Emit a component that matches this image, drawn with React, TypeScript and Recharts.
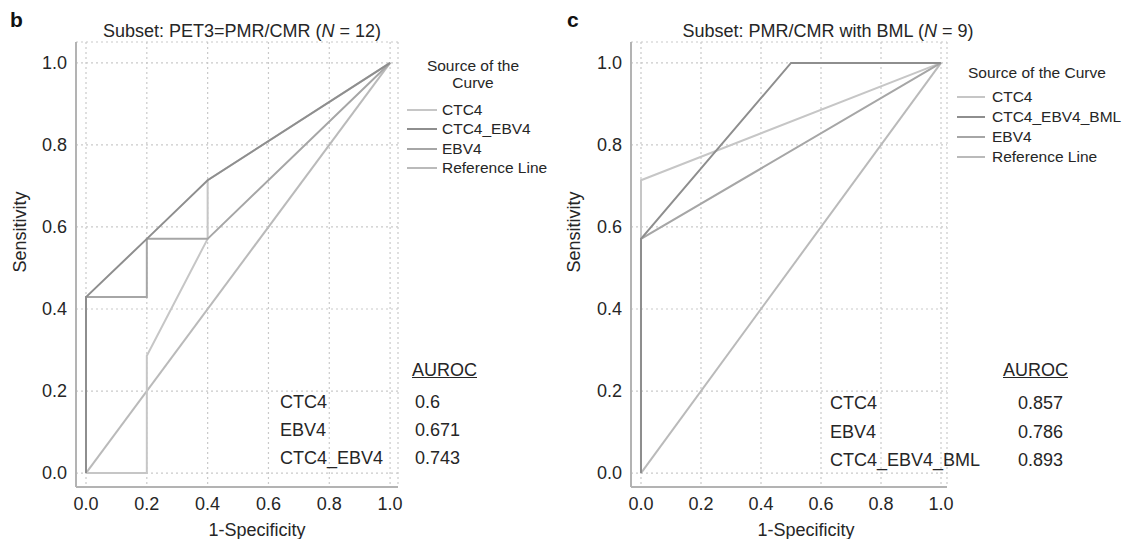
import React from 'react';
import { LineChart, Line, XAxis, YAxis, CartesianGrid } from 'recharts';

// tick values shared by both panels
const axisTicks = [0, 0.2, 0.4, 0.6, 0.8, 1.0];

// panel b: Subset PET3=PMR/CMR (N = 12)
const bCtc4Fpr = [0, 0.2, 0.2, 0.4, 0.4, 1];
const bCtc4Tpr = [0, 0, 0.286, 0.571, 0.714, 1];
const bEbv4Fpr = [0, 0, 0.2, 0.2, 0.4, 1];
const bEbv4Tpr = [0, 0.429, 0.429, 0.571, 0.571, 1];
const bComboFpr = [0, 0, 0.2, 0.4, 1];
const bComboTpr = [0, 0.429, 0.571, 0.714, 1];
const bLegendNames = ['CTC4', 'CTC4_EBV4', 'EBV4', 'Reference Line'];
const bAurocNames = ['CTC4', 'EBV4', 'CTC4_EBV4'];
const bAurocValues = ['0.6', '0.671', '0.743'];

// panel c: Subset PMR/CMR with BML (N = 9)
const cCtc4Fpr = [0, 0, 1];
const cCtc4Tpr = [0, 0.714, 1];
const cEbv4Fpr = [0, 0, 1];
const cEbv4Tpr = [0, 0.571, 1];
const cComboFpr = [0, 0, 0.5, 1];
const cComboTpr = [0, 0.571, 1, 1];
const cLegendNames = ['CTC4', 'CTC4_EBV4_BML', 'EBV4', 'Reference Line'];
const cAurocNames = ['CTC4', 'EBV4', 'CTC4_EBV4_BML'];
const cAurocValues = ['0.857', '0.786', '0.893'];

// diagonal reference line
const refFpr = [0, 1];
const refTpr = [0, 1];

const FONT = '"Liberation Sans", Arial, Helvetica, sans-serif';
const TEXT = '#262626';

// legend order: CTC4, combo, EBV4, reference
const legendColors = ['#c6c6c6', '#8e8e8e', '#a6a6a6', '#bababa'];

const toPoints = (xs: number[], ys: number[]) => xs.map((x, i) => ({ x, y: ys[i] }));

type Curve = { name: string; fpr: number[]; tpr: number[]; color: string; width: number };

interface PanelProps {
  left: number;
  width: number;
  plotLeft: number;
  plotRight: number;
  xDomain: [number, number];
  curves: Curve[];
}

const RocPanel: React.FC<PanelProps> = ({ left, width, plotLeft, plotRight, xDomain, curves }) => (
  <div style={{ position: 'absolute', left, top: 0, width, height: 539 }}>
    <LineChart width={width} height={539} margin={{ top: 42, right: width - plotRight, bottom: 0, left: 0 }}>
      <CartesianGrid stroke="#cacaca" strokeDasharray="2 3" strokeWidth={1.2} />
      <XAxis
        type="number"
        dataKey="x"
        domain={xDomain}
        ticks={axisTicks}
        interval={0}
        allowDataOverflow
        height={52}
        tickFormatter={(v: number) => v.toFixed(1)}
        axisLine={{ stroke: '#b3b3b3', strokeWidth: 2 }}
        tickLine={false}
        tickSize={0}
        tickMargin={10}
        tick={{ fill: TEXT, fontSize: 18, fontFamily: FONT }}
      />
      <YAxis
        type="number"
        domain={[-0.034, 1.051]}
        ticks={axisTicks}
        interval={0}
        allowDataOverflow
        width={plotLeft}
        tickFormatter={(v: number) => v.toFixed(1)}
        axisLine={{ stroke: '#b3b3b3', strokeWidth: 2 }}
        tickLine={false}
        tickSize={0}
        tickMargin={9}
        tick={{ fill: TEXT, fontSize: 18, fontFamily: FONT }}
      />
      {curves.map((c) => (
        <Line
          key={c.name}
          data={toPoints(c.fpr, c.tpr)}
          dataKey="y"
          type="linear"
          stroke={c.color}
          strokeWidth={c.width}
          dot={false}
          activeDot={false}
          isAnimationActive={false}
        />
      ))}
    </LineChart>
  </div>
);

const abs = (l: number, t: number, extra: React.CSSProperties = {}): React.CSSProperties => ({
  position: 'absolute', left: l, top: t, fontFamily: FONT, color: TEXT, whiteSpace: 'nowrap', ...extra,
});

const LegendRows = ({ names, left, top, rowH, swatch, gap }: { names: string[]; left: number; top: number; rowH: number; swatch: number; gap: number }) => (
  <div style={abs(left, top, { fontSize: 15.5 })}>
    {names.map((n, i) => (
      <div key={n} style={{ height: rowH, display: 'flex', alignItems: 'center' }}>
        <span style={{ display: 'inline-block', width: swatch, height: 2, background: legendColors[i], marginRight: gap }} />
        <span>{n}</span>
      </div>
    ))}
  </div>
);

const App: React.FC = () => {
  const bCurves: Curve[] = [
    { name: 'Reference Line', fpr: refFpr, tpr: refTpr, color: legendColors[3], width: 2 },
    { name: 'CTC4', fpr: bCtc4Fpr, tpr: bCtc4Tpr, color: legendColors[0], width: 2 },
    { name: 'EBV4', fpr: bEbv4Fpr, tpr: bEbv4Tpr, color: legendColors[2], width: 2 },
    { name: 'CTC4_EBV4', fpr: bComboFpr, tpr: bComboTpr, color: legendColors[1], width: 2 },
  ];
  const cCurves: Curve[] = [
    { name: 'Reference Line', fpr: refFpr, tpr: refTpr, color: legendColors[3], width: 2 },
    { name: 'CTC4', fpr: cCtc4Fpr, tpr: cCtc4Tpr, color: legendColors[0], width: 2 },
    { name: 'EBV4', fpr: cEbv4Fpr, tpr: cEbv4Tpr, color: legendColors[2], width: 2 },
    { name: 'CTC4_EBV4_BML', fpr: cComboFpr, tpr: cComboTpr, color: legendColors[1], width: 2 },
  ];

  return (
    <div style={{ position: 'absolute', left: 0, top: 0, width: 1124, height: 539, background: '#fff', overflow: 'hidden' }}>
      <RocPanel left={0} width={560} plotLeft={76} plotRight={398} xDomain={[-0.0329, 1.026]} curves={bCurves} />
      <RocPanel left={560} width={564} plotLeft={71} plotRight={387} xDomain={[-0.0333, 1.02]} curves={cCurves} />

      {/* panel letters and titles */}
      <div style={abs(10, 8, { fontSize: 21, fontWeight: 'bold', color: '#111' })}>b</div>
      <div style={abs(567, 8, { fontSize: 21, fontWeight: 'bold', color: '#111' })}>c</div>
      <div style={abs(242, 31, { fontSize: 18, transform: 'translate(-50%, -50%)' })}>
        Subset: PET3=PMR/CMR (<i>N</i> = 12)
      </div>
      <div style={abs(828, 31, { fontSize: 18, transform: 'translate(-50%, -50%)' })}>
        Subset: PMR/CMR with BML (<i>N</i> = 9)
      </div>

      {/* axis titles */}
      <div style={abs(20, 232, { fontSize: 18, transform: 'translate(-50%, -50%) rotate(-90deg)' })}>Sensitivity</div>
      <div style={abs(574, 232, { fontSize: 18, transform: 'translate(-50%, -50%) rotate(-90deg)' })}>Sensitivity</div>
      <div style={abs(257, 530, { fontSize: 18, transform: 'translate(-50%, -50%)' })}>1-Specificity</div>
      <div style={abs(806, 530, { fontSize: 18, transform: 'translate(-50%, -50%)' })}>1-Specificity</div>

      {/* legends */}
      <div style={abs(420, 57, { fontSize: 15.5, width: 106, textAlign: 'center', lineHeight: '17px' })}>
        Source of the<br />Curve
      </div>
      <LegendRows names={bLegendNames} left={407} top={100.3} rowH={19.4} swatch={30} gap={5} />
      <div style={abs(968, 63.5, { fontSize: 15.5, lineHeight: '17px' })}>Source of the Curve</div>
      <LegendRows names={cLegendNames} left={957} top={86.7} rowH={20} swatch={28} gap={7} />

      {/* AUROC tables */}
      <div style={abs(412, 359, { fontSize: 18, lineHeight: '22px', textDecoration: 'underline' })}>AUROC</div>
      {bAurocNames.map((n, i) => (
        <React.Fragment key={n}>
          <div style={abs(280, 388 + i * 27.8, { fontSize: 18, lineHeight: '28px' })}>{n}</div>
          <div style={abs(415, 388 + i * 27.8, { fontSize: 18, lineHeight: '28px' })}>{bAurocValues[i]}</div>
        </React.Fragment>
      ))}
      <div style={abs(1003, 359, { fontSize: 18, lineHeight: '22px', textDecoration: 'underline' })}>AUROC</div>
      {cAurocNames.map((n, i) => (
        <React.Fragment key={n}>
          <div style={abs(830, 389 + i * 28.6, { fontSize: 18, lineHeight: '28px' })}>{n}</div>
          <div style={abs(963, 389 + i * 28.6, { fontSize: 18, lineHeight: '28px', width: 100, textAlign: 'right' })}>{cAurocValues[i]}</div>
        </React.Fragment>
      ))}
    </div>
  );
};

export default App;
